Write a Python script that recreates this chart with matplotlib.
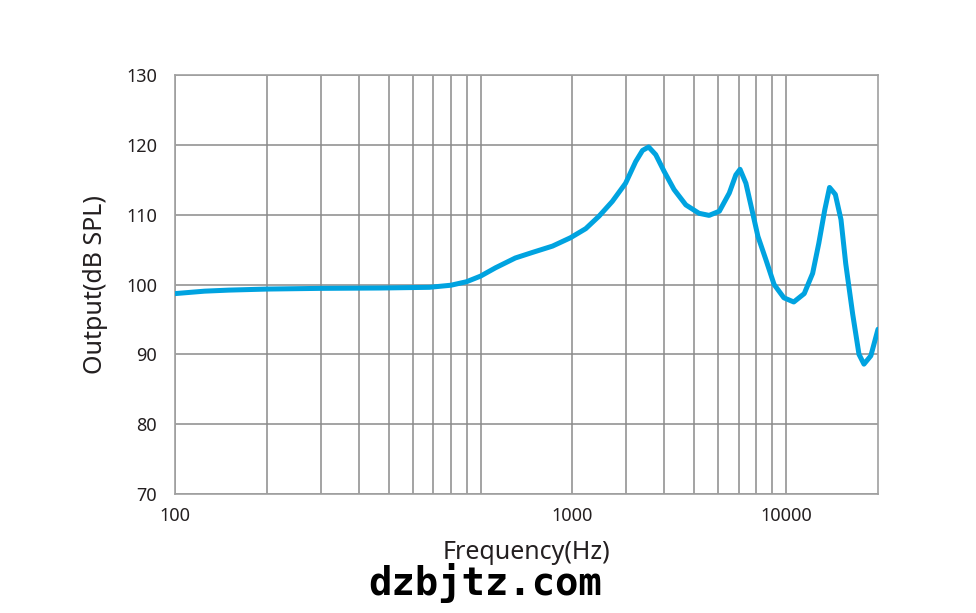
import numpy as np
import matplotlib.pyplot as plt
from matplotlib.ticker import FixedLocator, NullFormatter

plt.rcParams['font.family'] = ['Noto Sans', 'DejaVu Sans']

# frequency response (Hz, dB SPL)
freq = [100, 125, 150, 200, 300, 470, 680, 800, 900, 1000, 1120, 1300, 1480,
        1720, 1970, 2210, 2444, 2700, 2984, 3220, 3390, 3550, 3745, 3990,
        4300, 4700, 5190, 5600, 6050, 6520, 6850, 7070, 7390, 7780, 8090,
        8600, 9140, 9840, 10600, 11470, 12220, 12800, 13390, 13880, 14500,
        15130, 15680, 16520, 17330, 17990, 18950, 20000]
spl = [98.7, 99.05, 99.2, 99.35, 99.45, 99.5, 99.6, 99.9, 100.4, 101.2, 102.4,
       103.8, 104.6, 105.5, 106.7, 108.0, 109.8, 111.9, 114.5, 117.6, 119.2,
       119.7, 118.6, 116.2, 113.6, 111.4, 110.2, 109.9, 110.5, 113.1, 115.7,
       116.5, 114.5, 110.2, 106.9, 103.5, 100.0, 98.1, 97.5, 98.7, 101.6,
       105.9, 110.7, 113.9, 112.9, 109.3, 103.0, 95.8, 90.0, 88.6, 89.8, 93.6]

y_ticks = [70, 80, 90, 100, 110, 120, 130]
# the reference prints "1000" under the 2 kHz grid line
x_tick_pos = [100, 2000, 10000]
x_tick_labels = ["100", "1000", "10000"]
minor_grid = [200, 300, 400, 500, 600, 700, 800, 900, 1000,
              3000, 4000, 5000, 6000, 7000, 8000, 9000]

fig = plt.figure(figsize=(9.76, 6.13), dpi=100)
ax = fig.add_axes([0.1793, 0.1941, 0.7203, 0.6835])

ax.plot(freq, spl, color='#00a3e0', linewidth=3.6, solid_joinstyle='round',
        solid_capstyle='round', zorder=3)

ax.set_xscale('log')
ax.set_xlim(100, 20000)
ax.set_ylim(70, 130)
ax.xaxis.set_major_locator(FixedLocator(x_tick_pos))
ax.set_xticklabels(x_tick_labels)
ax.xaxis.set_minor_locator(FixedLocator(minor_grid))
ax.xaxis.set_minor_formatter(NullFormatter())
ax.set_yticks(y_ticks)

ax.grid(True, which='both', axis='x', color='#8a8a8a', linewidth=1.1)
ax.grid(True, which='major', axis='y', color='#8a8a8a', linewidth=1.1)
for s in ax.spines.values():
    s.set_color('#a0a0a0')
    s.set_linewidth(1.2)

ax.tick_params(axis='both', which='both', length=0, labelsize=13,
               labelcolor='#231f20')
ax.tick_params(axis='y', pad=13)
ax.tick_params(axis='x', pad=9)

ax.set_xlabel('Frequency(Hz)', fontsize=18, color='#231f20', labelpad=11)
ax.set_ylabel('Output(dB SPL)', fontsize=18, color='#231f20', labelpad=13)

fig.text(0.497, 0.029, 'dzbjtz.com', ha='center', va='baseline',
         family='DejaVu Sans Mono', weight='bold', fontsize=28, color='black')

fig.savefig('out.png', dpi=100)
